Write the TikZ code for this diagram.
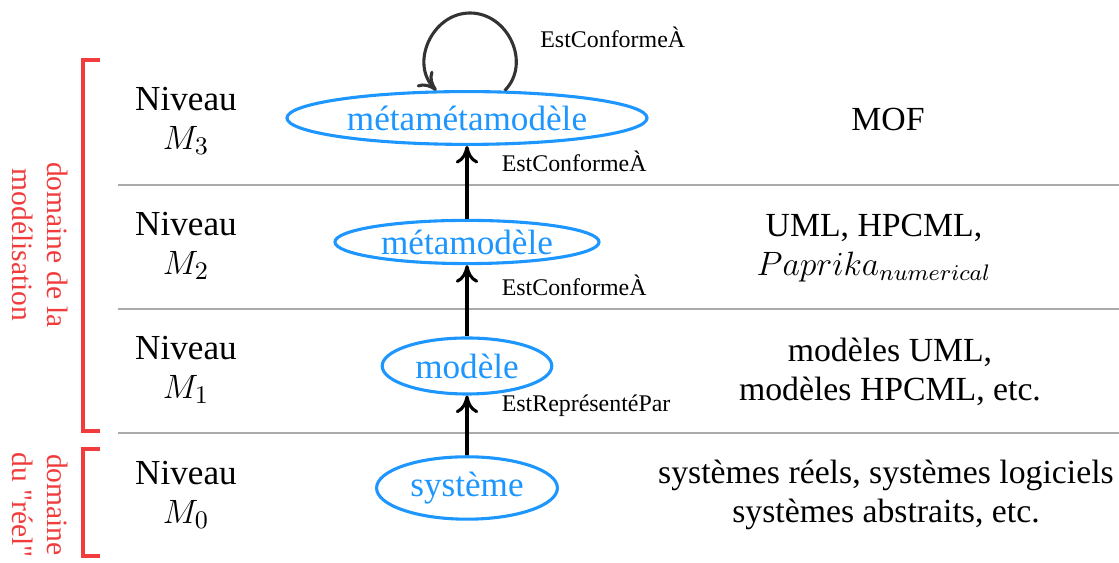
\documentclass[tikz,border=0pt]{standalone}
\usepackage{fontspec}
\setmainfont{Liberation Serif}
\newfontfamily\plainserif{Liberation Serif}
\usepackage{tikz}
\usetikzlibrary{arrows.meta, shapes.geometric}
\definecolor{levelblue}{HTML}{1E96FF}
\definecolor{domainred}{HTML}{F03C3C}
\definecolor{rulegray}{HTML}{AAAAAA}
\definecolor{loopgray}{HTML}{333333}

\begin{document}
\begin{tikzpicture}[
        x=0.0125cm, y=0.0125cm,
        font=\fontsize{12.5}{14}\selectfont,
        model/.style={ellipse, draw=levelblue, line width=1.1pt,
                text=levelblue, inner sep=0pt},
        level/.style={align=center},
        desc/.style={align=center, font=\fontsize{12}{14}\selectfont},
        arr/.style={-{To[length=2.2mm, width=2.8mm]}, line width=1.1pt},
        arrlbl/.style={font=\fontsize{8.5}{10}\selectfont, anchor=west,
                inner sep=1pt},
        domainlbl/.style={rotate=-90, align=center, text=domainred,
                font=\plainserif\fontsize{10.5}{12.4}\selectfont},
        bracket/.style={draw=domainred, line width=1.1pt},
        sep/.style={draw=rulegray, line width=0.6pt},
    ]
    \useasboundingbox (0,0) rectangle (1119,563);

    % separations between the levels
    \foreach \y in {378,254,130} {
        \draw[sep] (118,\y) -- (1119,\y);
    }

    \node[model, minimum width=4.5cm, minimum height=0.66cm] (mmm) at (467,445) {métamétamodèle};
    \node[model, minimum width=3.3cm, minimum height=0.54cm] (mm) at (467,321) {métamodèle};
    \node[model, minimum width=2.12cm, minimum height=0.7cm] (mod) at (467,197) {modèle};
    \node[model, minimum width=2.26cm, minimum height=0.78cm] (sys) at (467,75) {système};

    \draw[arr] (sys) -- (mod)
        node[arrlbl, pos=0.83, xshift=0.38cm] {EstReprésentéPar};
    \draw[arr] (mod) -- (mm)
        node[arrlbl, pos=0.72, xshift=0.38cm] {EstConformeÀ};
    \draw[arr] (mm) -- (mmm)
        node[arrlbl, pos=0.79, xshift=0.38cm] {EstConformeÀ};

    % self loop on the top level
    \coordinate (looptop) at (470,550);
    \draw[arr, loopgray] (mmm.36) to[out=45, in=0, looseness=1.15] (looptop)
        to[out=180, in=135, looseness=1.15] (mmm.138);
    \node[arrlbl] (selflbl) at (537,526) {EstConformeÀ};

    % levels
    \node[level] (n3) at (186,442) {Niveau\\$M_3$};
    \node[level] (n2) at (186,317) {Niveau\\$M_2$};
    \node[level] (n1) at (186,193) {Niveau\\$M_1$};
    \node[level] (n0) at (186,68) {Niveau\\$M_0$};

    \node[desc] (d3) at (888,443) {MOF};
    \node[desc] (d2) at (874,315) {UML, HPCML,\\$Paprika_{numerical}$};
    \node[desc] (d1) at (890,191) {modèles UML,\\modèles HPCML, etc.};
    \node[desc] (d0) at (886,68) {systèmes réels, systèmes logiciels\\systèmes abstraits, etc.};

    % domains
    \draw[bracket] (100,503) -- (83,503) -- (83,132) -- (100,132);
    \draw[bracket] (100,114) -- (83,114) -- (83,7) -- (100,7);
    \node[domainlbl] (dommod) at (40,318) {domaine de la\\modélisation};
    \node[domainlbl] (domreel) at (40,58) {domaine\\du "réel"};
\end{tikzpicture}
\end{document}
